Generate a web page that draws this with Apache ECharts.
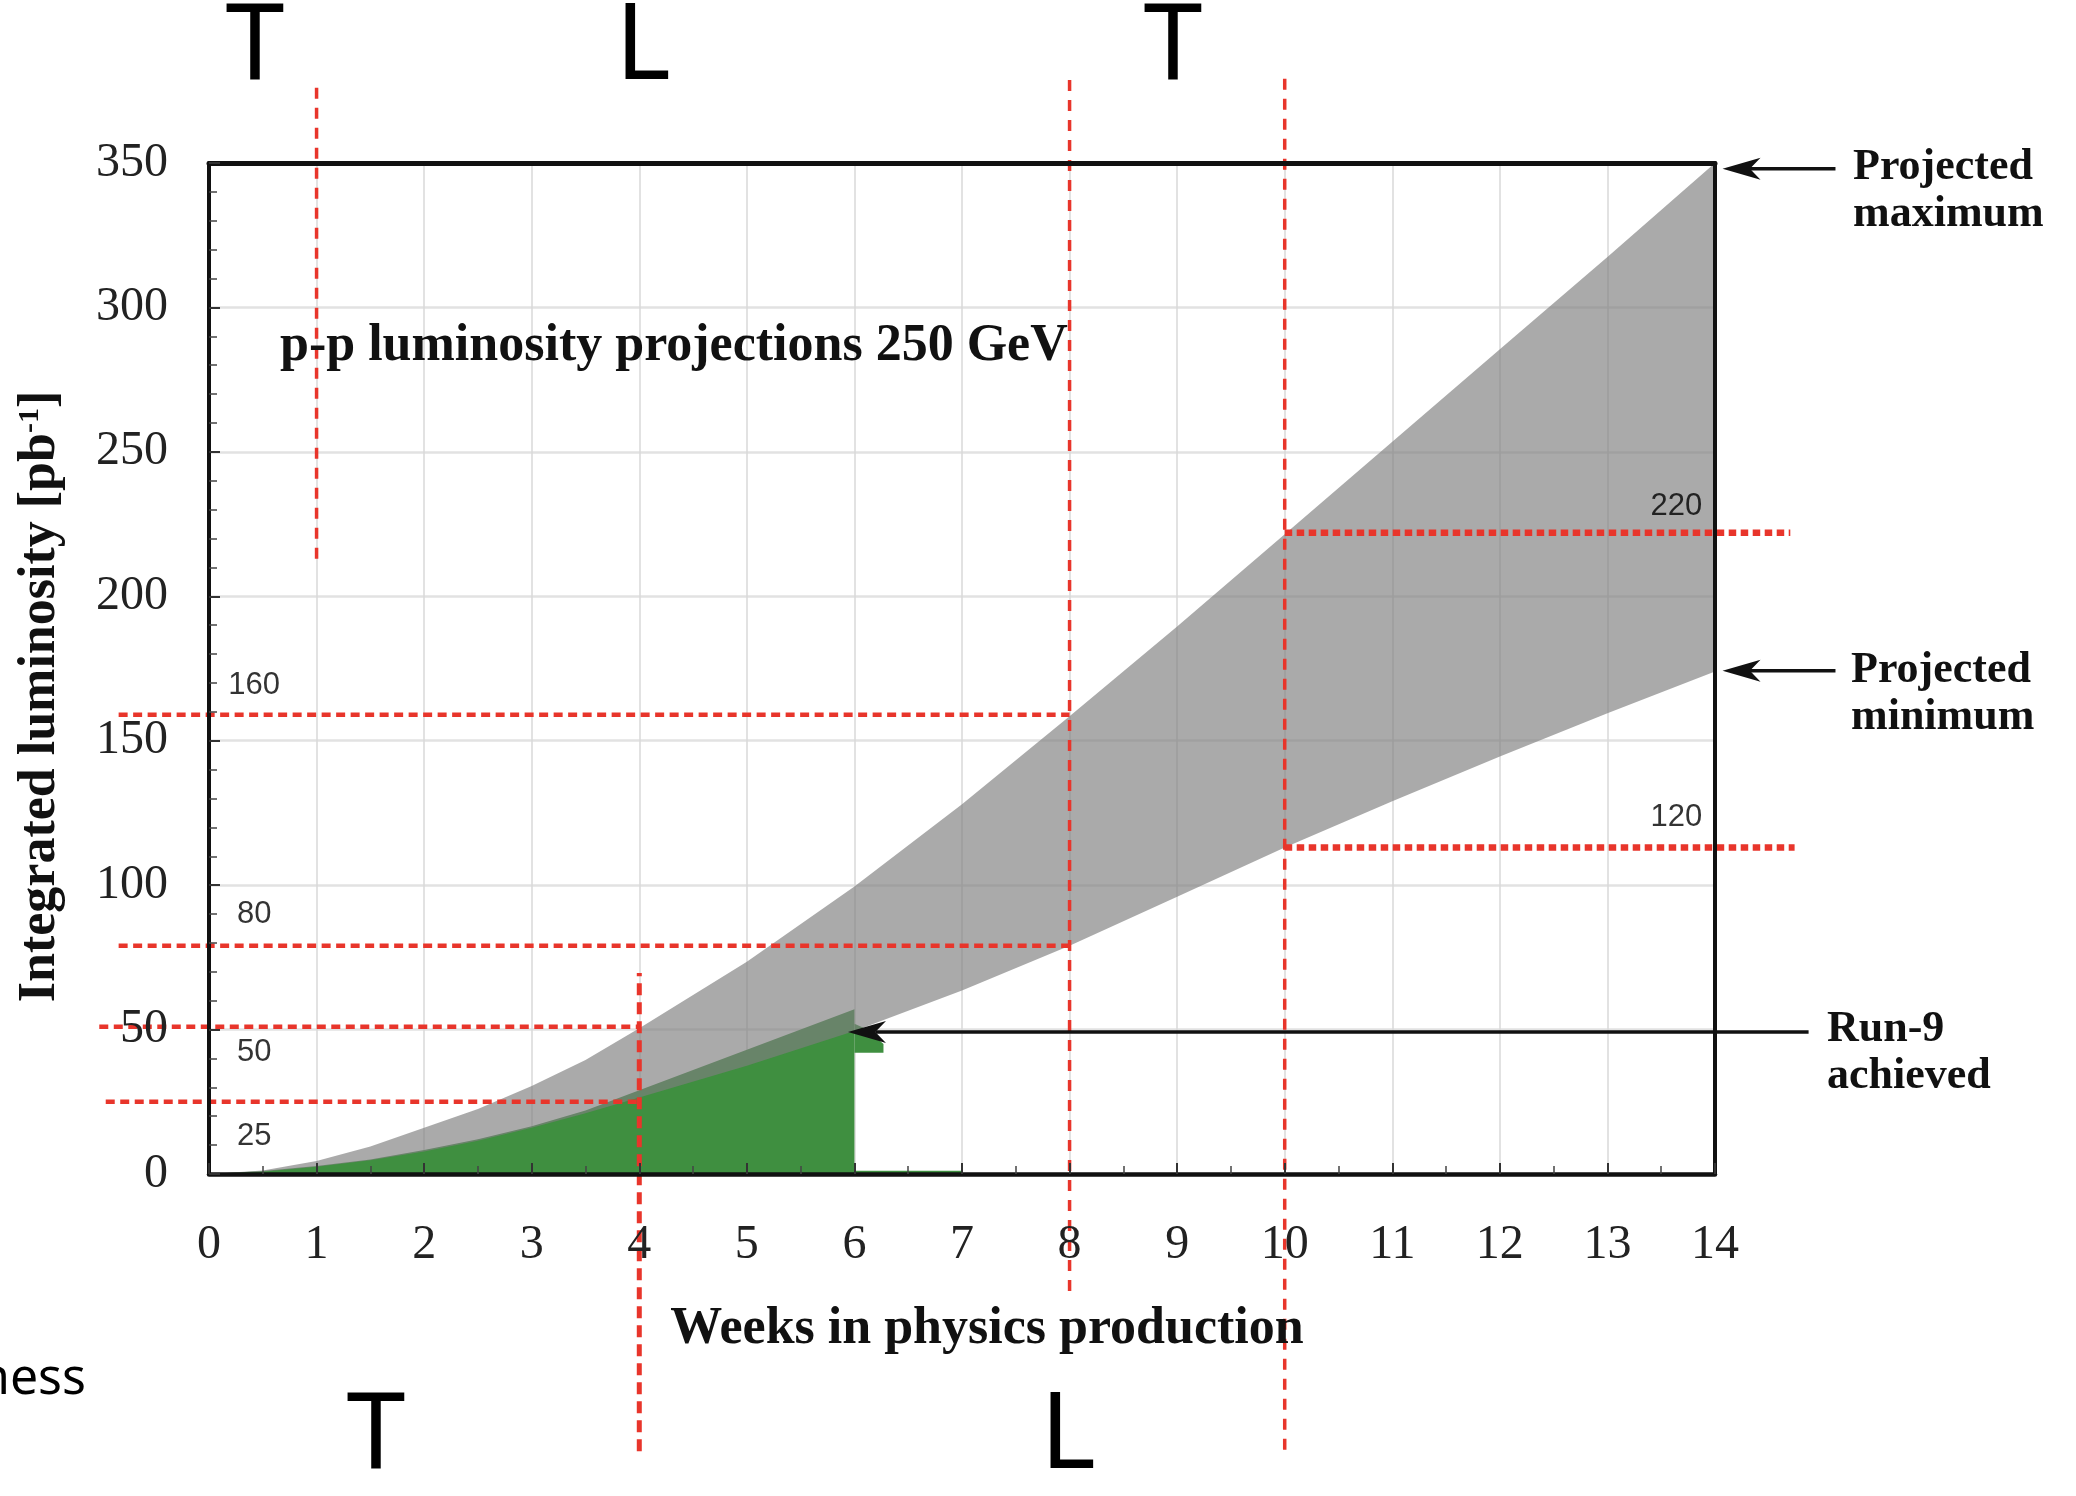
<!DOCTYPE html>
<html><head><meta charset="utf-8">
<script src="https://cdn.jsdelivr.net/npm/echarts@6/dist/echarts.min.js"></script>
<style>html,body{margin:0;padding:0;background:#fff}#c{width:2076px;height:1496px}</style>
</head><body><div id="c"></div>
<script>
// ---------------- data ----------------
const weeks        = [0,0.5,1,1.5,2,2.5,3,3.5,4,5,6,7,8,9,10,11,12,13,14];
const projectedMax = [0,1.2,4.5,9.5,16,22.5,30.5,39.5,50.5,73.5,99.5,128,158.5,189.5,221.5,253.5,285.5,317.5,350];
const projectedMin = [0,0.8,2.5,4.8,7.8,11.5,16,21,26.5,37.5,49.5,63.5,79,96,113,129,144.5,159.5,174];

const run9Weeks = [0,0.5,1,1.5,2,2.5,3,3.5,4,4.5,5,5.5,6,6];
const run9Lumi  = [0,1,2.8,5,8.3,12,16.5,22,29,36,43,50,57,0];
const run9NotchWeeks = [6,6.12,6.27,6.27,6];
const run9NotchLumi  = [52,50,45,42,42];
const run9TailWeeks  = [6,7];
const run9TailLumi   = [0.6,0.6];

const xTicks = [0,14,1];      // min, max, step (weeks)
const yTicks = [0,350,50];    // min, max, step (pb^-1)

// red reference lines: [x0, x1, y0, y1]
const refTopVertical  = [[1,1,213,379],[8,8,-40.5,380],[10,10,-95.5,380]];
const refWeek4        = [[4,4,-96,69.6]];
const refLeftLevels   = [[-0.84,8,159,159],[-0.84,8,79,79],[-1.02,4,51,51],[-0.96,4,25,25]];
const refRightLevels  = [[10,14.7,222,222],[10,14.74,113,113]];
// labels of the reference levels: [week, value, text]
const refLabels = [[0.42,169,'160'],[0.42,90,'80'],[0.42,42,'50'],[0.42,13,'25'],[13.64,231,'220'],[13.64,123.6,'120']];
// arrows: [fromWeek, fromValue, toWeek, toValue]
const arrows = [[15.12,348,14.07,348],[15.12,174.2,14.07,174.2],[14.87,49.2,5.94,49.2]];

// ---------------- styles ----------------
const GREEN = '#3f8f40';
const RED = '#e8352b';
const SERIF = 'Liberation Serif';

const series = [];
series.push({type:'line', name:'Run-9', data: run9Weeks.map((w,i)=>[w,run9Lumi[i]]),
  symbol:'none', lineStyle:{width:0,opacity:0}, areaStyle:{color:GREEN,opacity:1}, z:1, silent:true});
series.push({type:'custom', data:[[run9NotchWeeks[0], run9NotchLumi[0]]], z:1, silent:true,
  renderItem:(params, api)=>{
    const pts = run9NotchWeeks.map((w,i)=>api.coord([w, run9NotchLumi[i]]));
    return {type:'polygon', shape:{points:pts}, style:{fill:GREEN}};
  }});
series.push({type:'line', data: run9TailWeeks.map((w,i)=>[w,run9TailLumi[i]]),
  symbol:'none', lineStyle:{width:3,color:GREEN}, z:1, silent:true});
// projected band (between minimum and maximum)
series.push({type:'custom', name:'Projection band', data:[[weeks[0], projectedMin[0]]], z:2, silent:true,
  renderItem:(params, api)=>{
    const pts = [];
    for (let i=0;i<weeks.length;i++) pts.push(api.coord([weeks[i], projectedMax[i]]));
    for (let i=weeks.length-1;i>=0;i--) pts.push(api.coord([weeks[i], projectedMin[i]]));
    return {type:'polygon', shape:{points:pts, smooth:0}, style:{fill:'rgba(126,126,126,0.66)'}};
  }});

function refSeries(list, width, dash){
  series.push({type:'custom', data:list, z:3, silent:true, clip:false,
    encode:{x:[0,1], y:[2,3]},
    renderItem:(params, api)=>{
      const p0 = api.coord([api.value(0), api.value(2)]);
      const p1 = api.coord([api.value(1), api.value(3)]);
      return {type:'line', shape:{x1:p0[0],y1:p0[1],x2:p1[0],y2:p1[1]},
        style:{stroke:RED, lineWidth:width, lineDash:dash, lineCap:'butt'}};
    }});
}
refSeries(refTopVertical, 3.5, [11,9]);
refSeries(refWeek4, 5, [12,7]);
refSeries(refLeftLevels, 4.5, [9,5.5]);
refSeries(refRightLevels, 6.5, [7.5,4.5]);

series.push({type:'scatter', data: refLabels, symbolSize:0, z:5, silent:true,
  label:{show:true, position:'inside', formatter:p=>p.value[2], fontFamily:'Liberation Sans', fontSize:31, color:'#000'}});

series.push({type:'custom', data: arrows, z:4, silent:true, clip:false,
  encode:{x:[0,2], y:[1,3]},
  renderItem:(params, api)=>{
    const p0 = api.coord([api.value(0), api.value(1)]);
    const p1 = api.coord([api.value(2), api.value(3)]);
    const dx = p1[0]-p0[0], dy = p1[1]-p0[1];
    const len = Math.sqrt(dx*dx+dy*dy);
    const ux = dx/len, uy = dy/len, nx = -uy, ny = ux;
    const L = 38, W = 11;
    const back = [p1[0]-ux*L, p1[1]-uy*L];
    const inner = [p1[0]-ux*L*0.72, p1[1]-uy*L*0.72];
    return {type:'group', children:[
      {type:'line', shape:{x1:p0[0],y1:p0[1],x2:inner[0],y2:inner[1]}, style:{stroke:'#111', lineWidth:3.5}},
      {type:'polygon', shape:{points:[p1,[back[0]+nx*W, back[1]+ny*W], inner, [back[0]-nx*W, back[1]-ny*W]]}, style:{fill:'#111'}}
    ]};
  }});

const hidden = {axisLabel:{show:false}, axisTick:{show:false}, minorTick:{show:false}};
const option = {
  animation:false,
  backgroundColor:'#fff',
  title:{text:'p-p luminosity projections 250 GeV', left:275, top:316,
    textStyle:{fontFamily:SERIF, fontWeight:'bold', fontSize:52, color:'#111'}},
  grid:{left:209, right:361, top:163, bottom:322, show:true, borderWidth:0, backgroundColor:'#fff'},
  xAxis:[
    {type:'value', min:xTicks[0], max:xTicks[1], interval:xTicks[2], z:10,
      axisLine:{show:true, onZero:false, lineStyle:{color:'#111', width:4.5}},
      axisTick:{show:true, inside:true, length:11, lineStyle:{color:'#333', width:2}},
      minorTick:{show:true, splitNumber:2, length:8, lineStyle:{color:'#444', width:1.5}},
      splitLine:{show:false},
      axisLabel:{margin:47, fontFamily:SERIF, fontSize:48, color:'#222'},
      name:'Weeks in physics production', nameLocation:'middle', nameGap:130,
      nameTextStyle:{fontFamily:SERIF, fontWeight:'bold', fontSize:52, color:'#111', padding:[0,0,0,50]}},
    Object.assign({type:'value', position:'top', min:xTicks[0], max:xTicks[1], interval:xTicks[2], z:10,
      axisLine:{show:true, onZero:false, lineStyle:{color:'#111', width:5}}, splitLine:{show:false}}, hidden),
    Object.assign({type:'value', position:'bottom', min:xTicks[0], max:xTicks[1], interval:xTicks[2], z:0,
      axisLine:{show:false}, splitLine:{show:true, showMinLine:false, showMaxLine:false, lineStyle:{color:'#d9d9d9', width:1.5}}}, hidden)
  ],
  yAxis:[
    {type:'value', min:yTicks[0], max:yTicks[1], interval:yTicks[2], z:10,
      axisLine:{show:true, onZero:false, lineStyle:{color:'#111', width:4}},
      axisTick:{show:true, inside:true, length:11, lineStyle:{color:'#333', width:2}},
      minorTick:{show:true, splitNumber:5, length:8, lineStyle:{color:'#444', width:1.5}},
      splitLine:{show:false},
      axisLabel:{margin:41, fontFamily:SERIF, fontSize:48, color:'#222'},
      name:'Integrated luminosity [pb{sup|-1}]', nameLocation:'middle', nameGap:142,
      nameTextStyle:{fontFamily:SERIF, fontWeight:'bold', fontSize:52, color:'#111', padding:[0,56,0,0],
        rich:{sup:{fontFamily:SERIF, fontWeight:'bold', fontSize:30, color:'#111', verticalAlign:'top', padding:[0,0,18,0]}}}},
    Object.assign({type:'value', position:'right', min:yTicks[0], max:yTicks[1], interval:yTicks[2], z:10,
      axisLine:{show:true, onZero:false, lineStyle:{color:'#111', width:4}}, splitLine:{show:false}}, hidden),
    Object.assign({type:'value', position:'left', min:yTicks[0], max:yTicks[1], interval:yTicks[2], z:0,
      axisLine:{show:false}, splitLine:{show:true, showMinLine:false, showMaxLine:false, lineStyle:{color:'#e2e2e2', width:2.5}}}, hidden)
  ],
  graphic:[
    {type:'text', x:255, y:49, style:{text:'T', font:'106px "Noto Sans"', fill:'#000', align:'center', verticalAlign:'middle'}},
    {type:'text', x:643, y:49, style:{text:'L', font:'106px "Noto Sans"', fill:'#000', align:'center', verticalAlign:'middle'}},
    {type:'text', x:1173, y:49, style:{text:'T', font:'106px "Noto Sans"', fill:'#000', align:'center', verticalAlign:'middle'}},
    {type:'text', x:376, y:1438, style:{text:'T', font:'106px "Noto Sans"', fill:'#000', align:'center', verticalAlign:'middle'}},
    {type:'text', x:1068, y:1438, style:{text:'L', font:'106px "Noto Sans"', fill:'#000', align:'center', verticalAlign:'middle'}},
    {type:'text', x:86, y:1380, style:{text:'ness', font:'50px "Noto Sans"', fill:'#000', align:'right', verticalAlign:'middle'}},
    {type:'text', x:1853, y:191.5, style:{text:'Projected\nmaximum', font:'bold 44px "Liberation Serif"', lineHeight:47, fill:'#111', align:'left', verticalAlign:'middle'}},
    {type:'text', x:1851, y:694.5, style:{text:'Projected\nminimum', font:'bold 44px "Liberation Serif"', lineHeight:47, fill:'#111', align:'left', verticalAlign:'middle'}},
    {type:'text', x:1827, y:1053.5, style:{text:'Run-9\nachieved', font:'bold 44px "Liberation Serif"', lineHeight:47, fill:'#111', align:'left', verticalAlign:'middle'}}
  ],
  series: series
};
const chart = echarts.init(document.getElementById('c'), null, {renderer:'canvas', width:2076, height:1496});
chart.setOption(option);
</script>
</body></html>
